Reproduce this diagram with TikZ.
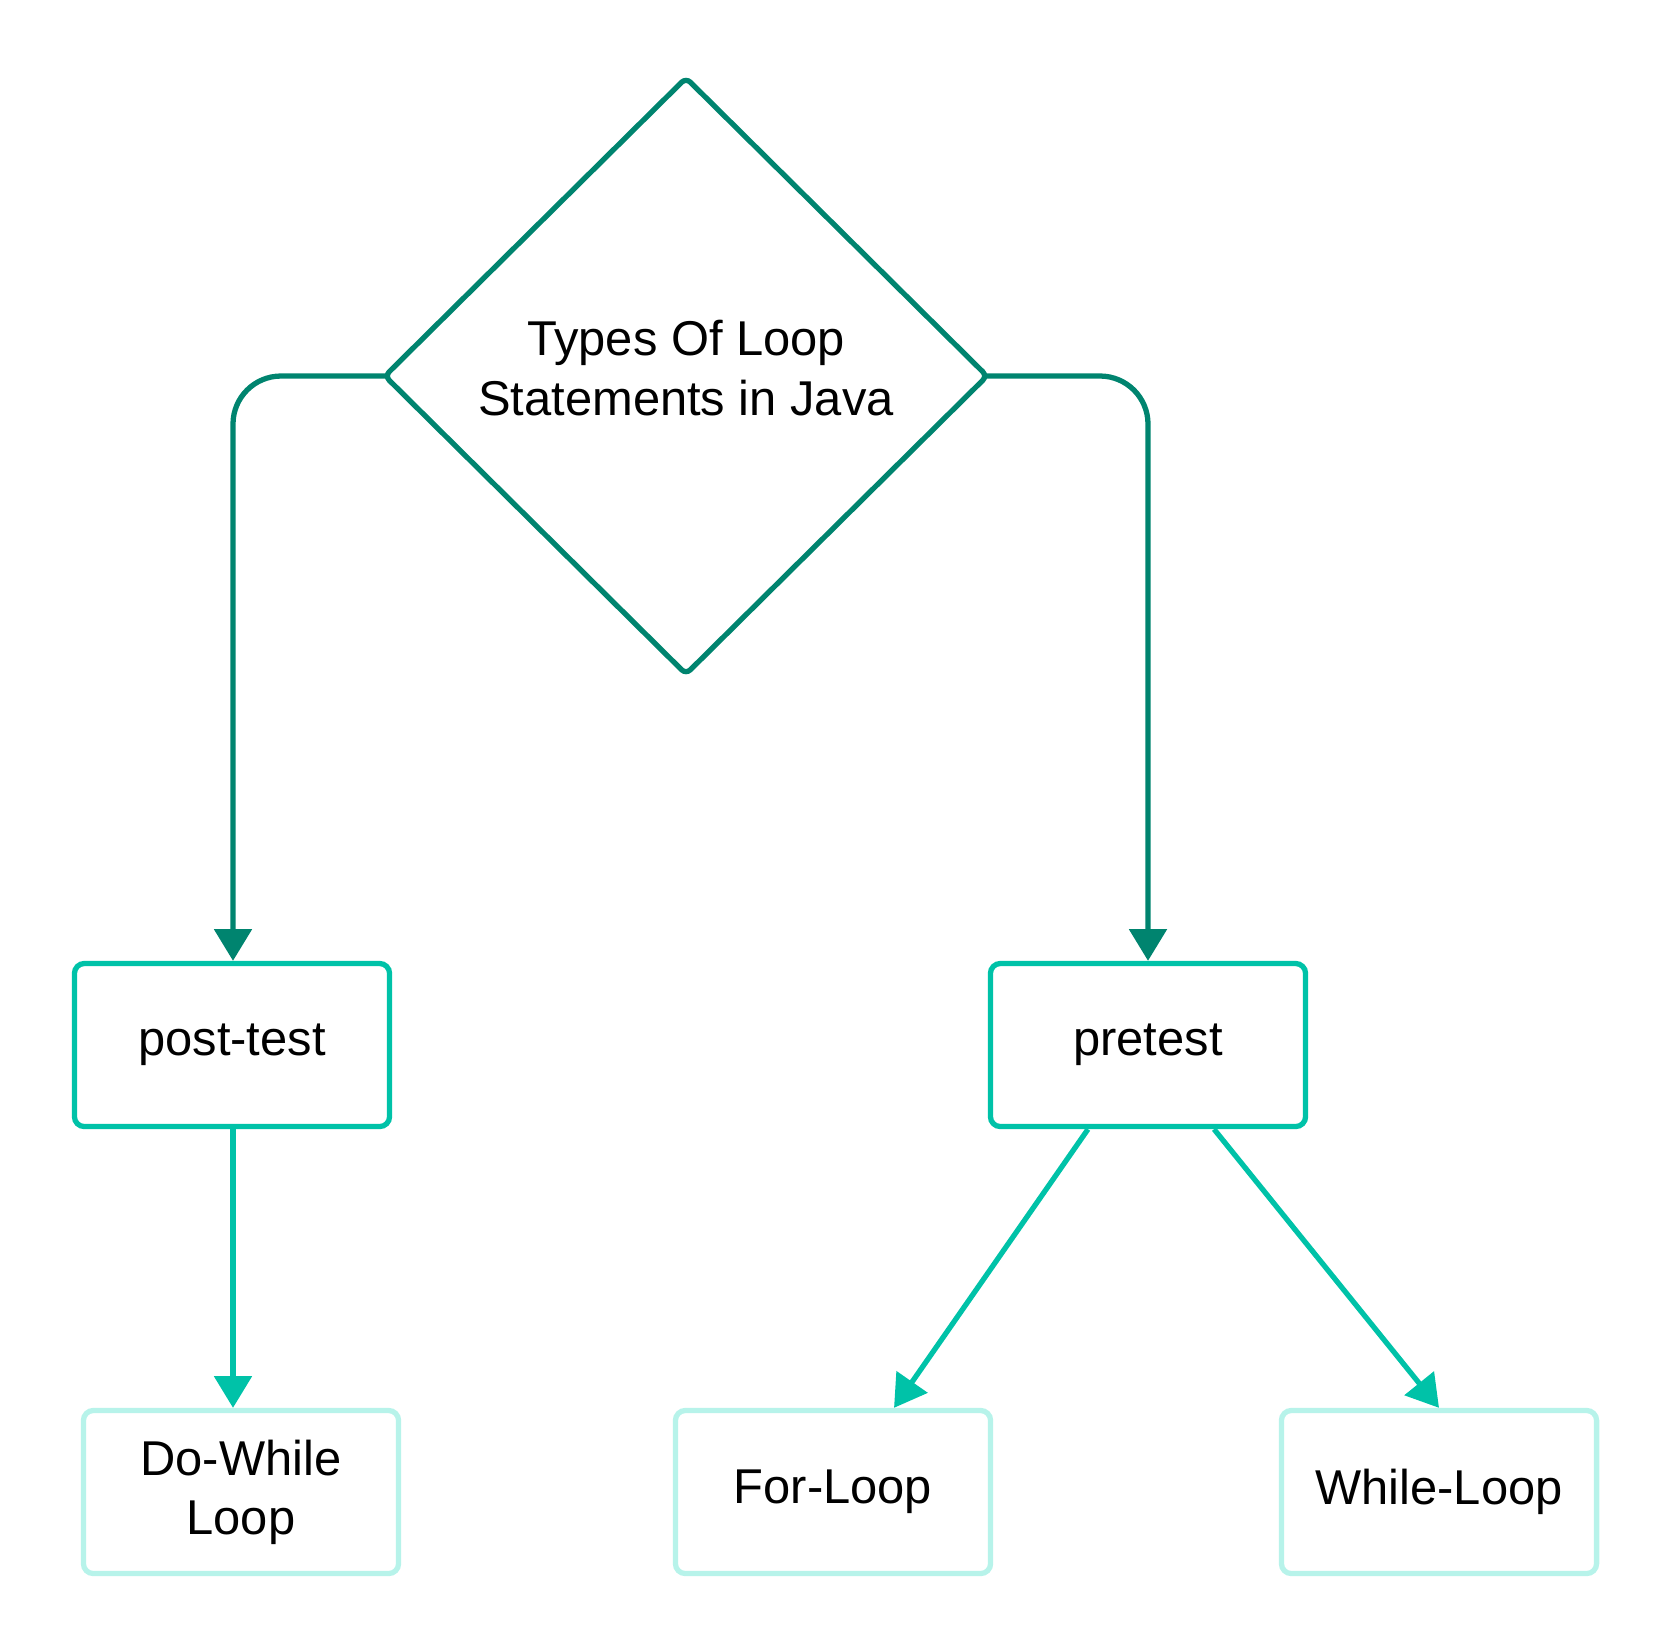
\documentclass[tikz,border=0pt]{standalone}
\usepackage{fontspec}
\setmainfont{Liberation Sans}
\usetikzlibrary{shapes.geometric,arrows.meta}
\definecolor{darkteal}{RGB}{0,132,111}
\definecolor{midteal}{RGB}{0,194,168}
\definecolor{paleteal}{RGB}{183,243,234}
\tikzset{
  typebox/.style={shape=rectangle, draw=midteal, line width=1.5pt, rounded corners=0.1cm,
    minimum width=3.15cm, minimum height=1.63cm, align=center,
    font=\fontsize{13.9}{16.8}\selectfont},
  loopbox/.style={typebox, draw=paleteal},
  darkarrow/.style={-{Triangle[length=9pt,width=10.5pt]}, draw=darkteal, line width=1.5pt, rounded corners=0.48cm},
  lightarrow/.style={-{Triangle[length=9pt,width=10.5pt]}, draw=midteal, line width=1.5pt}
}
\begin{document}
\begin{tikzpicture}[x=0.01cm, y=-0.01cm]
    \useasboundingbox (0,0) rectangle (1673,1650);
    \node[shape=diamond, draw=darkteal, line width=1.5pt, rounded corners=0.06cm, minimum width=6.04cm, minimum height=5.98cm] at (686,376) (types) {};
    \node[align=center, font=\fontsize{13.9}{16.8}\selectfont] at (686,368) (typestext) {Types Of Loop\\Statements in Java};
    \node[typebox] at (232,1045) (post) {post-test};
    \node[typebox] at (1148,1045) (pre) {pretest};
    \node[loopbox] at (241,1492) (dowhile) {Do-While\\Loop};
    \node[loopbox] at (833,1492) (forloop) {For-Loop};
    \node[loopbox] at (1439,1492) (whileloop) {While-Loop};
    \draw [darkarrow] ([xshift=0.05cm]types.west) -| ([xshift=0.01cm]post.north);
    \draw [darkarrow] ([xshift=-0.05cm]types.east) -| (pre.north);
    \draw [lightarrow] ([xshift=0.01cm]post.south) -- ([xshift=0.01cm]post.south |- dowhile.north);
    \draw [lightarrow] ([xshift=-0.6cm]pre.south) -- ([xshift=0.61cm]forloop.north);
    \draw [lightarrow] ([xshift=0.66cm]pre.south) -- (whileloop.north);
\end{tikzpicture}
\end{document}
